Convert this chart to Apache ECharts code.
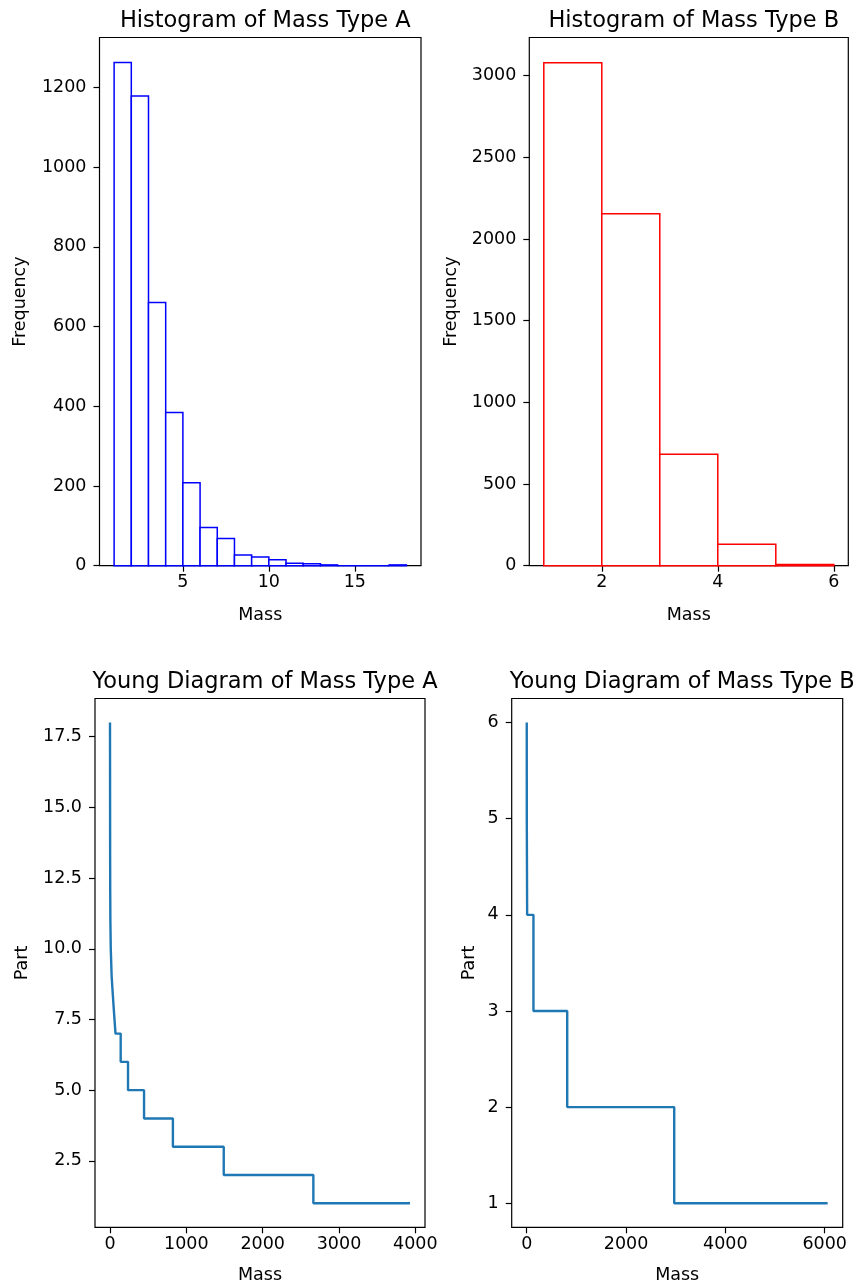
<!DOCTYPE html>
<html>
<head>
<meta charset="utf-8">
<script src="https://cdn.jsdelivr.net/npm/echarts@6/dist/echarts.min.js"></script>
<style>
html,body{margin:0;padding:0;background:#fff;}
#chart{width:853px;height:1287px;}
</style>
</head>
<body>
<div id="chart"></div>
<script>
// ---------- DATA ----------
const binEdgesA = [1,2,3,4,5,6,7,8,9,10,11,12,13,14,15,16,17,18];
const countsA   = [1262,1178,660,384,208,96,68,27,22,15,6,5,2,0,0,0,2];
const binEdgesB = [1,2,3,4,5,6];
const countsB   = [3080,2155,682,131,7];

// Young diagrams: start mass of each part level (step points)
const youngAMass = [0,2,3,5,10,22,46,72,140,236,446,824,1490,2664,3930];
const youngAPart = [18,13,12,11,10,9,8,7,6,5,4,3,2,1,1];
const youngBMass = [0,1,8,135,815,2970,6060];
const youngBPart = [6,5,4,3,2,1,1];

const histATicksX = [5,10,15];
const histATicksY = [0,200,400,600,800,1000,1200];
const histBTicksX = [2,4,6];
const histBTicksY = [0,500,1000,1500,2000,2500,3000];
const youngATicksX = [0,1000,2000,3000,4000];
const youngATicksY = [2.5,5,7.5,10,12.5,15,17.5];
const youngBTicksX = [0,2000,4000,6000];
const youngBTicksY = [1,2,3,4,5,6];

const titles = ['Histogram of Mass Type A','Histogram of Mass Type B','Young Diagram of Mass Type A','Young Diagram of Mass Type B'];

// ---------- LAYOUT ----------
const FONT = 'DejaVu Sans';
const grids = [
  {left:99.5, top:37.5, width:321.5, height:528.2},
  {left:529.3, top:37.5, width:319, height:528.2},
  {left:95, top:698.5, width:330, height:528.8},
  {left:511.7, top:698.5, width:331, height:528.8}
];

function histSeries(edges, counts) {
  const d = [];
  for (let i = 0; i < counts.length; i++) d.push([edges[i], edges[i+1], counts[i]]);
  return d;
}
function stepData(xs, ys) { return xs.map((x,i)=>[x, ys[i]]); }

function mkX(idx, min, max, ticks, gap, fmt) {
  return {
    type:'value', gridIndex:idx, min:min, max:max,
    name:'Mass', nameLocation:'middle', nameGap:gap,
    nameTextStyle:{fontFamily:FONT, fontSize:17.5, color:'#000'},
    axisLine:{show:false, onZero:false},
    splitLine:{show:false},
    axisTick:{show:true, customValues:ticks, length:6, lineStyle:{color:'#000', width:1.2}},
    axisLabel:{customValues:ticks, margin:8, fontFamily:FONT, fontSize:17.5, color:'#000',
      formatter: fmt || (v=>String(v))}
  };
}
function mkY(idx, min, max, ticks, name, gap, fmt) {
  return {
    type:'value', gridIndex:idx, min:min, max:max,
    name:name, nameLocation:'middle', nameGap:gap,
    nameTextStyle:{fontFamily:FONT, fontSize:17.5, color:'#000'},
    axisLine:{show:false, onZero:false},
    splitLine:{show:false},
    axisTick:{show:true, customValues:ticks, length:6, lineStyle:{color:'#000', width:1.2}},
    axisLabel:{customValues:ticks, margin:13, fontFamily:FONT, fontSize:17.5, color:'#000',
      formatter: fmt || (v=>String(v))}
  };
}

const renderRect = (color) => function(params, api) {
  const p0 = api.coord([api.value(0), api.value(2)]);
  const p1 = api.coord([api.value(1), 0]);
  return {
    type:'rect',
    shape:{x:p0[0], y:p0[1], width:p1[0]-p0[0], height:p1[1]-p0[1]},
    style:{fill:'#fff', stroke:color, lineWidth:1.5}
  };
};

const chart = echarts.init(document.getElementById('chart'), null, {renderer:'canvas'});
chart.setOption({
  animation:false,
  backgroundColor:'#fff',
  title: titles.map((t,i)=>({
    text:t,
    left: grids[i].left + grids[i].width/2,
    top: grids[i].top - 33,
    textAlign:'center',
    textStyle:{fontFamily:FONT, fontSize:22.5, fontWeight:'normal', color:'#000'}
  })),
  grid: grids.map(g=>Object.assign({show:true, borderColor:'#000', borderWidth:1.2, backgroundColor:'#fff', containLabel:false}, g)),
  xAxis:[
    mkX(0, 0.15, 18.85, histATicksX, 41),
    mkX(1, 0.75, 6.25, histBTicksX, 41),
    mkX(2, -196.5, 4126.5, youngATicksX, 39),
    mkX(3, -303, 6363, youngBTicksX, 39)
  ],
  yAxis:[
    mkY(0, 0, 1325, histATicksY, 'Frequency', 70),
    mkY(1, 0, 3234, histBTicksY, 'Frequency', 69),
    mkY(2, 0.15, 18.85, youngATicksY, 'Part', 64, v=>v.toFixed(1)),
    mkY(3, 0.75, 6.25, youngBTicksY, 'Part', 33)
  ],
  series:[
    {type:'custom', xAxisIndex:0, yAxisIndex:0, renderItem:renderRect('#0000ff'),
     encode:{x:[0,1], y:2}, data:histSeries(binEdgesA, countsA)},
    {type:'custom', xAxisIndex:1, yAxisIndex:1, renderItem:renderRect('#ff0000'),
     encode:{x:[0,1], y:2}, data:histSeries(binEdgesB, countsB)},
    {type:'line', xAxisIndex:2, yAxisIndex:2, step:'end', showSymbol:false, symbol:'none',
     lineStyle:{color:'#1f77b4', width:2.4}, data:stepData(youngAMass, youngAPart)},
    {type:'line', xAxisIndex:3, yAxisIndex:3, step:'end', showSymbol:false, symbol:'none',
     lineStyle:{color:'#1f77b4', width:2.4}, data:stepData(youngBMass, youngBPart)}
  ]
});
</script>
</body>
</html>
